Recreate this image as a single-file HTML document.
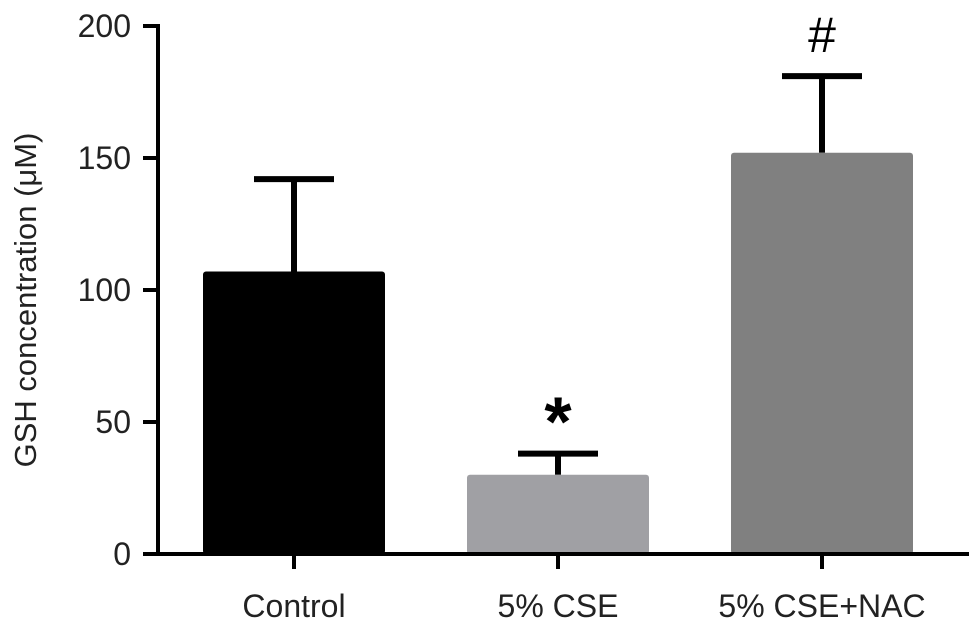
<!DOCTYPE html>
<html><head><meta charset="utf-8"><style>
html,body{margin:0;padding:0;background:#fff;}
svg{display:block;font-family:"Liberation Sans",Arial,sans-serif;}
</style></head><body>
<svg id="chart" width="969" height="629" viewBox="0 0 969 629"></svg>
<script>
const categories = ["Control", "5% CSE", "5% CSE+NAC"];
const means = [107, 30, 152];
const errors = [35, 8, 29];
const colors = ["#000000", "#a0a0a4", "#808080"];
const marks = ["", "*", "#"];
const yTicks = [0, 50, 100, 150, 200];

const NS = "http://www.w3.org/2000/svg";
const svg = document.getElementById("chart");
const x0 = 158, y0 = 554, yTop = 26;
const yScale = v => y0 - (v / 200) * (y0 - yTop);
const xCenter = i => 294 + i * 264;
const barW = 182;
function mk(tag, attrs, text) {
  const e = document.createElementNS(NS, tag);
  for (const k in attrs) e.setAttribute(k, attrs[k]);
  if (text !== undefined) e.textContent = text;
  svg.appendChild(e);
  return e;
}
categories.forEach((c, i) => {
  const cx = xCenter(i);
  const top = yScale(means[i]);
  const et = yScale(means[i] + errors[i]);
  const eb = mk("line", {x1: cx, x2: cx, y1: top, y2: et, stroke: "#000", "stroke-width": 6});
  
  
  const cap = mk("line", {x1: cx - 40, x2: cx + 40, y1: et, y2: et, stroke: "#000", "stroke-width": 6});
  
  
  const b = mk("rect", {x: cx - barW / 2, y: top, width: barW, height: y0 - top, fill: colors[i], rx: 3});
  
  
  if (marks[i]) {
    const isStar = marks[i] === "*";
    const m = mk("text", {x: cx, y: isStar ? et - 8 : et - 24, "text-anchor": "middle", "font-size": isStar ? 70 : 50, "font-weight": isStar ? "bold" : "normal"}, marks[i]);
    
    
  }
  const t = mk("line", {x1: cx, x2: cx, y1: y0, y2: y0 + 15, stroke: "#000", "stroke-width": 4});
  
  
  const l = mk("text", {x: cx, y: 617, "text-anchor": "middle", "font-size": 32, fill: "#222"}, c);
  
  
});
yTicks.forEach(v => {
  const y = yScale(v);
  const t = mk("line", {x1: x0 - 15, x2: x0, y1: y, y2: y, stroke: "#000", "stroke-width": 4});
  
  
  const l = mk("text", {x: x0 - 27, y: y + 11, "text-anchor": "end", "font-size": 32, fill: "#222"}, v);
  
  
});
const ya = mk("line", {x1: x0, x2: x0, y1: yTop - 2, y2: y0 + 2, stroke: "#000", "stroke-width": 4});


const xa = mk("line", {x1: x0 - 15, x2: 969, y1: y0, y2: y0, stroke: "#000", "stroke-width": 4});


const yt = mk("text", {x: 0, y: 0, transform: "translate(36,300) rotate(-90)", "text-anchor": "middle", "font-size": 31, fill: "#222"}, "GSH concentration (\u03bcM)");


</script>
</body></html>
